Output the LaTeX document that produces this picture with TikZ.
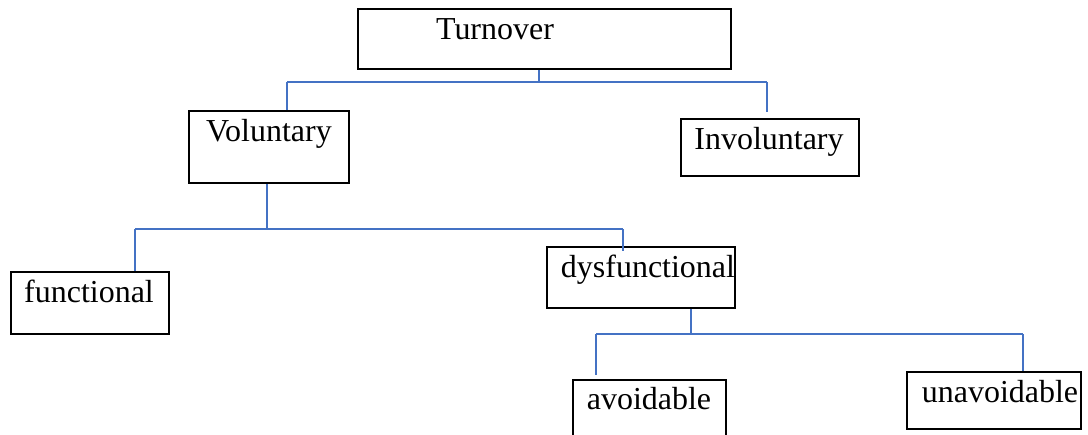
\documentclass[tikz,border=0pt]{standalone}
\usepackage{fontspec}
\setmainfont{Liberation Serif}
\usetikzlibrary{fit}
\definecolor{linkblue}{RGB}{68,114,196}

\tikzset{
  box/.style={draw, line width=1.15pt, inner sep=0pt},
  word/.style={anchor=base, inner sep=0pt, font=\fontsize{18.2}{20}\selectfont},
  link/.style={draw=linkblue, line width=1pt}
}

\begin{document}
\begin{tikzpicture}[x=0.02cm, y=-0.02cm]

\clip (0,0) rectangle (1088,434);

% boxes
\node[box, fit={(358,9) (731,69)}] (turnover) {};
\node[box, fit={(189,111) (349,183)}] (voluntary) {};
\node[box, fit={(681,119) (859,176)}] (involuntary) {};
\node[box, fit={(11,272) (169,334)}] (functional) {};
\node[box, fit={(547,247) (735,308)}] (dysfunctional) {};
\node[box, fit={(573,380) (726,450)}] (avoidable) {};
\node[box, fit={(907,372) (1081,429)}] (unavoidable) {};

\node[word] (turnover-txt) at (495,39) {Turnover};
\node[word] (voluntary-txt) at (269,141) {Voluntary};
\node[word] (involuntary-txt) at (769,149) {Involuntary};
\node[word] (functional-txt) at (89,302) {functional};
\node[word] (dysfunctional-txt) at (648,277) {dysfunctional};
\node[word] (avoidable-txt) at (649,409) {avoidable};
\node[word] (unavoidable-txt) at (1000,402) {unavoidable};

% first split
\coordinate (split1) at (539,82);
\coordinate (split1-l) at (287,82);
\coordinate (split1-r) at (767,82);
\draw[link] (turnover.south -| split1) -- (split1);
\draw[link] (split1-l) -- (split1-r);
\draw[link] (split1-l) -- (split1-l |- voluntary.north);
\draw[link, shorten >=3.4pt] (split1-r) -- (split1-r |- involuntary.north);

% second split
\coordinate (split2) at (267,229);
\coordinate (split2-l) at (135,229);
\coordinate (split2-r) at (623,229);
\draw[link] (voluntary.south -| split2) -- (split2);
\draw[link] (split2-l) -- (split2-r);
\draw[link] (split2-l) -- (split2-l |- functional.north);
\draw[link, shorten >=-2.8pt] (split2-r) -- (split2-r |- dysfunctional.north);

% third split
\coordinate (split3) at (691,334);
\coordinate (split3-l) at (596,334);
\coordinate (split3-r) at (1023,334);
\draw[link] (dysfunctional.south -| split3) -- (split3);
\draw[link] (split3-l) -- (split3-r);
\draw[link, shorten >=2.2pt] (split3-l) -- (split3-l |- avoidable.north);
\draw[link] (split3-r) -- (split3-r |- unavoidable.north);

\end{tikzpicture}
\end{document}
